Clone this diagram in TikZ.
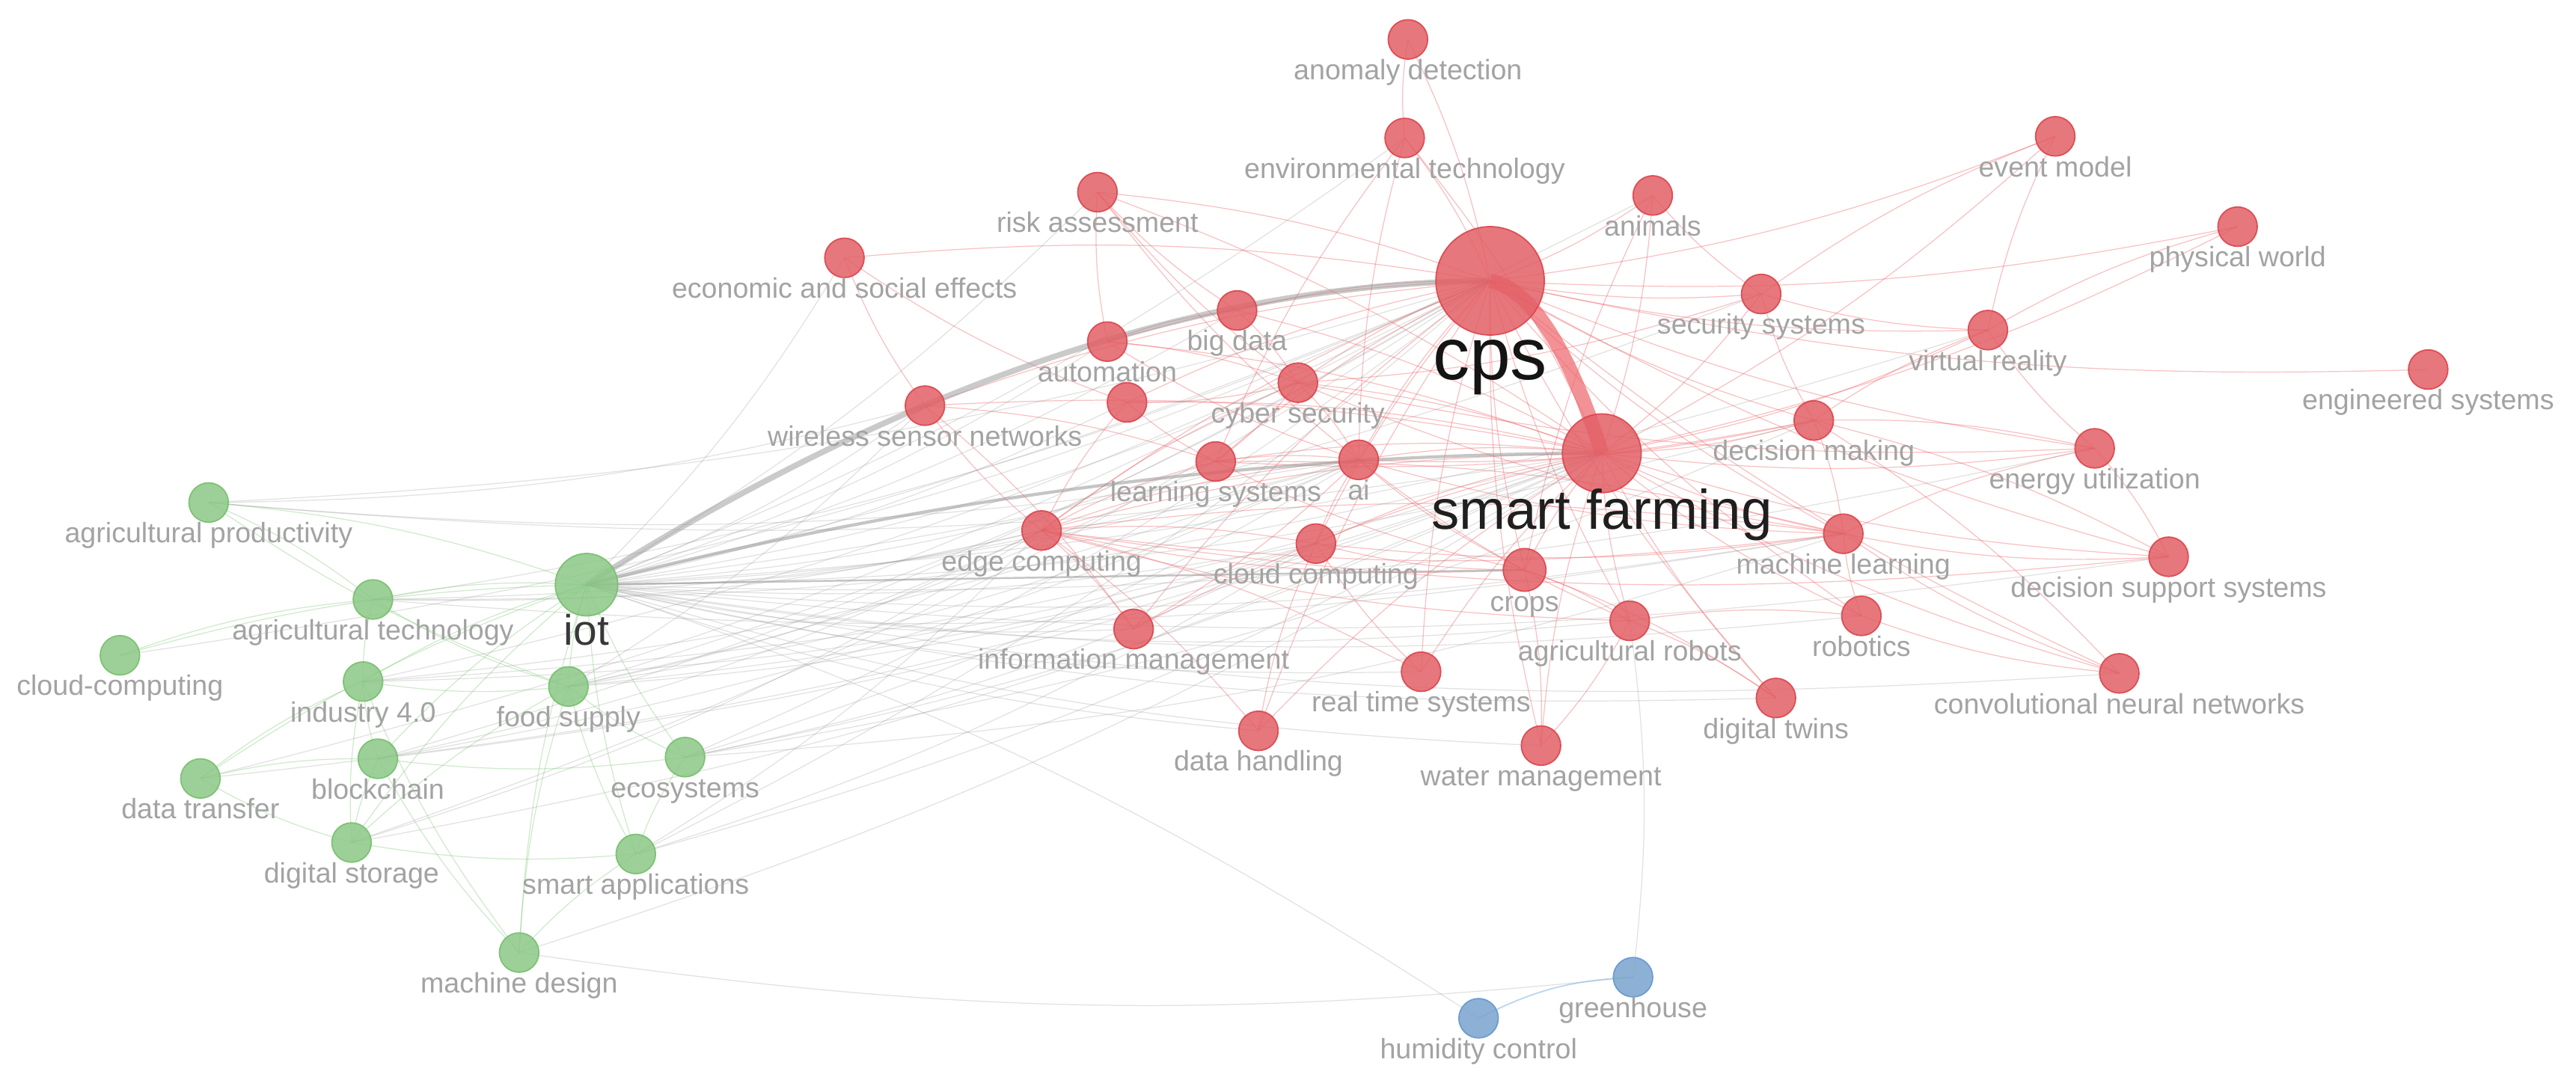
\documentclass[tikz,border=0pt]{standalone}
\usepackage{fontspec}
\setmainfont{Liberation Sans}
\pgfdeclarelayer{bg}
\pgfdeclarelayer{edges}
\pgfsetlayers{bg,edges,main}
\definecolor{rfill}{RGB}{226,96,102}
\definecolor{rdraw}{RGB}{220,68,76}
\definecolor{gfill}{RGB}{140,200,135}
\definecolor{gdraw}{RGB}{118,192,108}
\definecolor{bfill}{RGB}{122,164,205}
\definecolor{bdraw}{RGB}{100,152,208}
\definecolor{redge}{RGB}{238,100,106}
\definecolor{gedge}{RGB}{120,195,110}
\definecolor{kedge}{RGB}{150,150,150}
\definecolor{bedge}{RGB}{120,170,225}
\definecolor{labgray}{RGB}{163,163,163}
\tikzset{
  kw/.style={circle, inner sep=0pt, fill opacity=0.85, draw opacity=0.9, line width=0.5pt},
  rk/.style={kw, fill=rfill, draw=rdraw},
  gk/.style={kw, fill=gfill, draw=gdraw},
  bk/.style={kw, fill=bfill, draw=bdraw},
  lab/.style={anchor=base, inner sep=0pt, text=labgray, font=\fontsize{10.7}{12}\selectfont},
  re/.style={draw=redge, opacity=0.4, line width=0.35pt},
  ge/.style={draw=gedge, opacity=0.35, line width=0.35pt},
  ke/.style={draw=kedge, opacity=0.28, line width=0.35pt},
  be/.style={draw=bedge, opacity=0.5, line width=0.5pt},
}
\newcommand\kwnode[6]{%
  \node[#1, minimum size={2*#5*0.6248pt}] (#2) at (#3,#4) {};
  \node[lab] (#2-l) at (#3,{#4+#5+12.5}) {#6};
}
\begin{document}
\begin{tikzpicture}[x=0.021958cm,y=-0.021958cm]
\useasboundingbox (0,0) rectangle (1568,659);
\begin{pgfonlayer}{bg}
\fill[white] (0,0) rectangle (1568,659);
\end{pgfonlayer}

% ---------- red cluster ----------
\kwnode{rk}{ad}{857}{24}{12}{anomaly detection}
\kwnode{rk}{et}{855}{84}{12}{environmental technology}
\kwnode{rk}{ra}{668}{117}{12}{risk assessment}
\kwnode{rk}{an}{1006}{119}{12}{animals}
\kwnode{rk}{em}{1251}{83}{12}{event model}
\kwnode{rk}{pw}{1362}{138}{12}{physical world}
\kwnode{rk}{ese}{514}{157}{12}{economic and social effects}
\kwnode{rk}{bd}{753}{189}{12}{big data}
\kwnode{rk}{ss}{1072}{179}{12}{security systems}
\kwnode{rk}{vr}{1210}{201}{12}{virtual reality}
\kwnode{rk}{au}{674}{208}{12}{automation}
\kwnode{rk}{es}{1478}{225}{12}{engineered systems}
\kwnode{rk}{wsn}{563}{247}{12}{wireless sensor networks}
\node[rk, minimum size={24*0.6248pt}] (un) at (686,245) {};
\kwnode{rk}{cs}{790}{233}{12}{cyber security}
\kwnode{rk}{dm}{1104}{256}{12}{decision making}
\kwnode{rk}{ls}{740}{281}{12}{learning systems}
\kwnode{rk}{ai}{827}{280}{12}{ai}
\kwnode{rk}{eu}{1275}{273}{12}{energy utilization}
\kwnode{rk}{ec}{634}{323}{12}{edge computing}
\kwnode{rk}{cc}{801}{331}{12}{cloud computing}
\kwnode{rk}{ml}{1122}{325}{12}{machine learning}
\kwnode{rk}{dss}{1320}{339}{12}{decision support systems}
\kwnode{rk}{cr}{928}{347}{13}{crops}
\kwnode{rk}{rb}{1133}{375}{12}{robotics}
\kwnode{rk}{ar}{992}{378}{12}{agricultural robots}
\kwnode{rk}{im}{690}{383}{12}{information management}
\kwnode{rk}{rts}{865}{409}{12}{real time systems}
\kwnode{rk}{cnn}{1290}{410}{12}{convolutional neural networks}
\kwnode{rk}{dt}{1081}{425}{12}{digital twins}
\kwnode{rk}{dh}{766}{445}{12}{data handling}
\kwnode{rk}{wm}{938}{454}{12}{water management}
\node[rk, minimum size={2*33*0.6248pt}] (cps) at (907,171) {};
\node[rk, minimum size={2*24*0.6248pt}] (sf) at (975,276) {};

% ---------- green cluster ----------
\kwnode{gk}{apd}{127}{306}{12}{agricultural productivity}
\kwnode{gk}{at}{227}{365}{12}{agricultural technology}
\kwnode{gk}{clc}{73}{399}{12}{cloud-computing}
\kwnode{gk}{i40}{221}{415}{12}{industry 4.0}
\kwnode{gk}{fs}{346}{418}{12}{food supply}
\kwnode{gk}{bc}{230}{462}{12}{blockchain}
\kwnode{gk}{eco}{417}{461}{12}{ecosystems}
\kwnode{gk}{dtr}{122}{474}{12}{data transfer}
\kwnode{gk}{ds}{214}{513}{12}{digital storage}
\kwnode{gk}{sa}{387}{520}{12}{smart applications}
\kwnode{gk}{md}{316}{580}{12}{machine design}
\node[gk, minimum size={2*19*0.6248pt}] (iot) at (357,356) {};

% ---------- blue cluster ----------
\kwnode{bk}{gh}{994}{595}{12}{greenhouse}
\kwnode{bk}{hc}{900}{620}{12}{humidity control}

% ---------- big labels ----------
\node[anchor=base, inner sep=0pt, text=black!92, font=\fontsize{28}{30}\selectfont] (cps-l) at (907,231) {cps};
\node[anchor=base, inner sep=0pt, text=black!88, font=\fontsize{21.2}{24}\selectfont] (sf-l) at (975,322) {smart farming};
\node[anchor=base, inner sep=0pt, text=black!78, font=\fontsize{16.2}{18}\selectfont] (iot-l) at (357,393) {iot};

% ---------- edges ----------
\begin{pgfonlayer}{edges}
\foreach \a/\b in {cps/ad, cps/et, cps/ra, cps/an, cps/em, cps/pw, cps/ese, cps/bd, cps/ss, cps/vr, cps/au, cps/es, cps/wsn, cps/un, cps/cs, cps/dm, cps/ls, cps/ai, cps/eu, cps/ec, cps/cc, cps/ml, cps/dss, cps/cr, cps/rb, cps/ar, cps/im, cps/rts, cps/cnn, cps/dt, cps/dh, cps/wm,
  sf/et, sf/ra, sf/an, sf/em, sf/pw, sf/bd, sf/ss, sf/vr, sf/au, sf/wsn, sf/un, sf/cs, sf/dm, sf/ls, sf/ai, sf/eu, sf/ec, sf/cc, sf/ml, sf/dss, sf/cr, sf/rb, sf/ar, sf/im, sf/rts, sf/cnn, sf/dt, sf/dh, sf/wm,
  ai/ls, ai/cs, ai/ec, ai/cc, ai/ml, ai/cr, ai/ar, ai/dm, ls/ec, ls/cs, ls/wsn, cs/bd, cs/au, cs/ec, cs/ss, cc/ec, cc/ml, cc/cr, cc/rts, cc/dh, ml/dss, ml/cnn, ml/rb, ml/ec, ml/ls, ml/dm, rb/ar, rb/cnn, dt/ar, wm/cr, wm/ar, rts/ec, dh/ec, im/ec, im/wsn, ss/vr, ss/dm, vr/dm, vr/eu, eu/dm, eu/ml, dss/dm, dss/eu, ese/wsn, ese/un, ra/au, ra/cs, ra/bd, ra/ai, bd/au, un/cs, un/ec, un/ls, wsn/ec, an/ss, an/cr, et/ai, et/ls, em/vr, em/ss, pw/vr, ec/cr, ec/ar, im/ai, cnn/dm, ar/cr, dt/cr, ec/ml, ec/dss, ls/cr, ls/dm, cs/ml, cs/eu, au/ai, ad/et}
  \draw[re] (\a.center) to[bend right=7] (\b.center);
\foreach \a/\b in {iot/ra, iot/ese, iot/bd, iot/au, iot/wsn, iot/un, iot/cs, iot/ls, iot/ai, iot/ec, iot/cc, iot/ml, iot/im, iot/rts, iot/dh, iot/ar, iot/dm, iot/ss, iot/eu, iot/dss, iot/vr, iot/rb, iot/cnn, iot/wm, iot/dt, iot/et, iot/an,
  apd/cps, apd/sf, at/cps, at/sf, fs/cps, fs/sf, fs/ec, fs/cc, i40/cps, i40/sf, eco/cps, eco/sf, eco/cc, sa/cps, sa/sf, sa/ec, bc/cps, bc/sf, ds/sf, ds/cps, clc/cps, dtr/sf, md/sf, md/gh, gh/ar, hc/iot, eco/ml, fs/ai, at/ai, apd/ai, bc/ec, i40/cc, fs/ls, fs/wsn, eco/ai, sa/cc, at/ec, apd/wsn, i40/ai, bc/ai, ds/ec, dtr/cps, at/ml, eco/dm}
  \draw[ke] (\a.center) to[bend right=7] (\b.center);
\foreach \a/\b in {iot/apd, iot/at, iot/i40, iot/fs, iot/bc, iot/eco, iot/dtr, iot/ds, iot/sa, iot/md, iot/clc, at/clc, at/apd, at/fs, at/i40, i40/fs, i40/dtr, i40/ds, i40/bc, bc/eco, bc/dtr, bc/ds, dtr/ds, ds/sa, fs/eco, fs/md, fs/sa, bc/md, i40/md, sa/md, eco/sa, fs/ds, apd/fs}
  \draw[ge] (\a.center) to[bend right=7] (\b.center);
\draw[be] (hc.center) to[bend left=12] (gh.center);
% strong links
\draw[draw=kedge, opacity=0.55, line width=0.7pt] (iot.center) -- (cr.center);
\draw[draw=kedge, opacity=0.5, line width=2.2pt] (iot.center) .. controls (551,233) and (734,172) .. (cps.center);
\draw[draw=kedge, opacity=0.55, line width=1.2pt] (iot.center) .. controls (563,303) and (769,276) .. (sf.center);
\draw[draw=redge, opacity=0.7, line width=5.5pt] (cps.center) .. controls (930,175) and (954,209) .. (sf.center);
\end{pgfonlayer}
\end{tikzpicture}
\end{document}
